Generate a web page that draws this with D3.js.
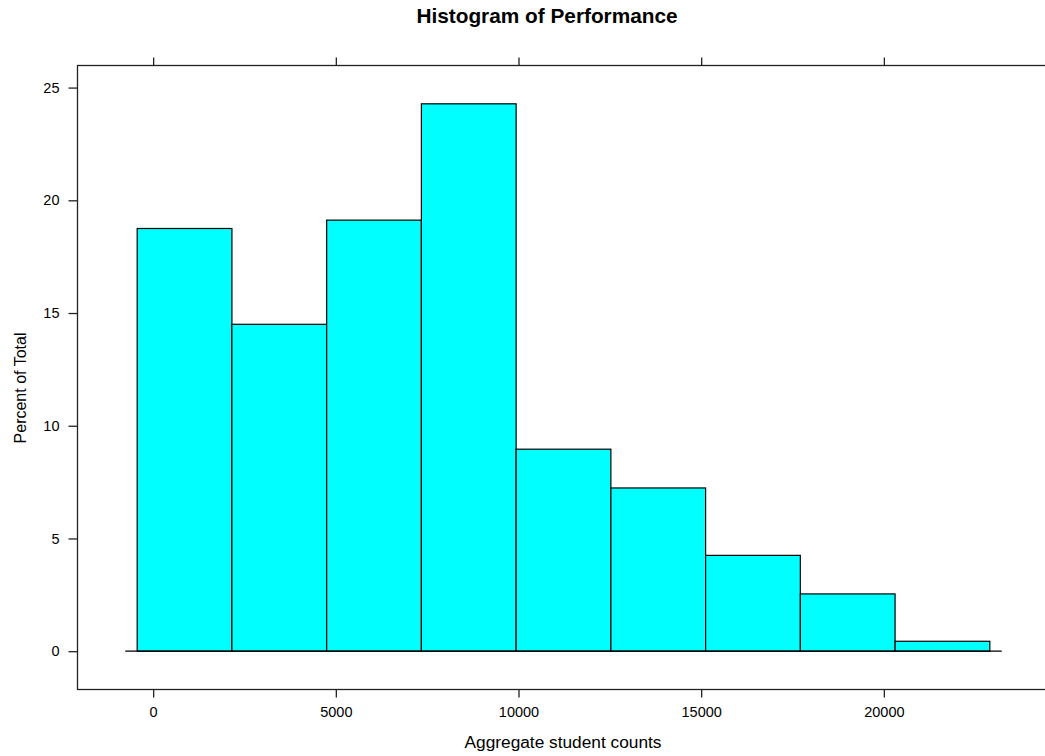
<!DOCTYPE html>
<html>
<head>
<meta charset="utf-8">
<script src="https://cdn.jsdelivr.net/npm/d3@7"></script>
<style>
  body { margin: 0; background: #fff; }
  text { font-family: "Liberation Sans", Arial, sans-serif; fill: #000; }
</style>
</head>
<body>
<svg id="chart" width="1045" height="756"></svg>
<script>
// histogram bins (Aggregate student counts) and percent of total
var binEdges = [-437, 2156, 4749, 7342, 9935, 12528, 15121, 17714, 20307, 22900];
var percents = [18.75, 14.5, 19.12, 24.28, 8.96, 7.24, 4.25, 2.54, 0.44];
var xTicks = [0, 5000, 10000, 15000, 20000];
var yTicks = [0, 5, 10, 15, 20, 25];

var title = "Histogram of Performance";
var xLabel = "Aggregate student counts";
var yLabel = "Percent of Total";

var svg = d3.select('#chart');

var bins = percents.map(function(p, i) {
	return { x0: binEdges[i], x1: binEdges[i + 1], pct: p };
});

// lattice-style limits: extend range by 7%
var xSpan = binEdges[binEdges.length - 1] - binEdges[0];
var xlim = [binEdges[0] - 0.07 * xSpan, binEdges[binEdges.length - 1] + 0.07 * xSpan];
var yMax = d3.max(percents);
var ylim = [-0.07 * yMax, yMax * 1.07];

var x = d3.scaleLinear().domain(xlim).range([77.5, 1049.5]);
var y = d3.scaleLinear().domain(ylim).range([689.5, 65.5]);

// bars
svg.append("g")
	.attr("class", "bars")
	.selectAll("rect")
	.data(bins)
	.enter().append("rect")
		.attr("x", function(d) { return x(d.x0); })
		.attr("y", function(d) { return y(d.pct); })
		.attr("width", function(d) { return x(d.x1) - x(d.x0); })
		.attr("height", function(d) { return y(0) - y(d.pct); })
		.attr("fill", "#00ffff")
		.attr("stroke", "#000")
		.attr("stroke-width", 1.2);

// baseline at 0
var pad = 0.014 * xSpan;
svg.append("line")
	.attr("x1", x(binEdges[0] - pad))
	.attr("x2", x(binEdges[binEdges.length - 1] + pad))
	.attr("y1", y(0))
	.attr("y2", y(0))
	.attr("stroke", "#000")
	.attr("stroke-width", 1.2);

// panel box
svg.append("rect")
	.attr("x", x(xlim[0]))
	.attr("y", y(ylim[1]))
	.attr("width", x(xlim[1]) - x(xlim[0]))
	.attr("height", y(ylim[0]) - y(ylim[1]))
	.attr("fill", "none")
	.attr("stroke", "#222")
	.attr("stroke-width", 1.3);

// bottom axis
var xAxisB = d3.axisBottom(x).tickValues(xTicks).tickSize(8).tickPadding(9).tickFormat(d3.format("d"));
var gb = svg.append("g")
	.attr("transform", "translate(0," + y(ylim[0]) + ")")
	.call(xAxisB);
gb.select(".domain").remove();

// top axis, ticks only
var xAxisT = d3.axisTop(x).tickValues(xTicks).tickSize(8).tickFormat("");
var gt = svg.append("g")
	.attr("transform", "translate(0," + y(ylim[1]) + ")")
	.call(xAxisT);
gt.select(".domain").remove();

// left axis
var yAxis = d3.axisLeft(y).tickValues(yTicks).tickSize(9).tickPadding(9);
var gl = svg.append("g")
	.attr("transform", "translate(" + x(xlim[0]) + ",0)")
	.call(yAxis);
gl.select(".domain").remove();

svg.selectAll(".tick line").attr("stroke", "#222").attr("stroke-width", 1.3);
svg.selectAll(".tick text")
	.attr("font-family", "'Liberation Sans', Arial, sans-serif")
	.attr("font-size", "14.5px")
	.attr("fill", "#000");

// title and labels
svg.append("text")
	.attr("x", 547)
	.attr("y", 23)
	.attr("text-anchor", "middle")
	.attr("font-weight", "bold")
	.attr("font-size", "20.8px")
	.text(title);

svg.append("text")
	.attr("x", 563)
	.attr("y", 748)
	.attr("text-anchor", "middle")
	.attr("font-size", "17.3px")
	.text(xLabel);

svg.append("text")
	.attr("transform", "translate(26,388) rotate(-90)")
	.attr("text-anchor", "middle")
	.attr("font-size", "16px")
	.text(yLabel);
</script>
</body>
</html>
